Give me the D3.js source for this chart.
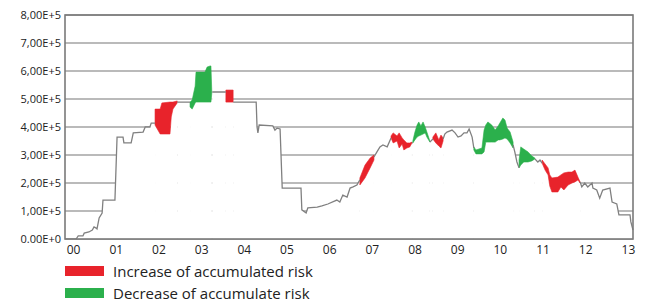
<!DOCTYPE html>
<html>
<head>
<meta charset="utf-8">
<script src="https://cdn.jsdelivr.net/npm/d3@7"></script>
<style>
  body { margin: 0; background: #fff; }
  svg { display: block; font-family: "Open Sans", sans-serif; }
</style>
</head>
<body>
<svg id="chart" width="646" height="305"></svg>
<script>
// years since 2000
var xTickValues = d3.range(0, 14);
var xTickLabels = ["00","01","02","03","04","05","06","07","08","09","10","11","12","13"];
var yTickValues = [0, 100000, 200000, 300000, 400000, 500000, 600000, 700000, 800000];
var yTickLabels = ["0.00E+0","1,00E+5","2,00E+5","3,00E+5","4,00E+5","5,00E+5","6,00E+5","7,00E+5","8,00E+5"];

var legendLabels = ["Increase of accumulated risk", "Decrease of accumulate risk"];

// accumulated risk, [year, value]; null = part covered by a coloured band
var riskLine = [
  [0.07,0],[0.12,11000],[0.23,11000],[0.26,21000],[0.37,25000],[0.45,32000],[0.49,43000],[0.54,39000],
  [0.56,36000],[0.61,75000],[0.68,93000],[0.70,139000],[0.98,139000],[1.03,364000],[1.17,364000],
  [1.19,343000],[1.36,343000],[1.41,379000],[1.64,382000],[1.69,400000],[1.80,400000],[1.83,414000],[1.92,414000],
  null,
  [2.44,489000],[2.74,489000],
  null,
  [3.26,525000],[3.58,525000],
  null,
  [3.75,489000],[4.29,489000],[4.31,400000],[4.33,379000],[4.36,407000],[4.68,404000],[4.73,389000],
  [4.78,396000],[4.85,393000],[4.90,182000],[5.34,182000],[5.36,104000],[5.46,93000],[5.50,111000],
  [5.72,114000],[5.83,118000],[5.97,125000],[6.18,139000],[6.25,132000],[6.32,157000],[6.42,150000],
  [6.49,182000],[6.56,186000],[6.65,193000],[6.72,211000],
  null,
  [7.05,293000],[7.12,311000],[7.19,329000],[7.26,336000],[7.36,329000],[7.45,361000],
  null,
  [7.94,343000],[7.96,343000],
  null,
  [8.36,346000],[8.43,357000],
  null,
  [8.67,357000],[8.71,375000],[8.76,382000],[8.88,389000],[8.95,379000],[9.02,364000],[9.09,368000],
  [9.16,379000],[9.23,379000],[9.28,393000],[9.35,364000],[9.39,325000],
  null,
  [10.31,336000],[10.35,311000],[10.40,275000],[10.45,254000],
  null,
  [10.82,286000],[10.89,275000],[10.94,282000],[10.99,271000],
  null,
  [11.88,204000],[11.92,186000],[11.99,200000],[12.06,186000],[12.16,200000],[12.18,182000],[12.27,175000],
  [12.34,146000],[12.41,175000],[12.58,182000],[12.63,132000],[12.74,125000],[12.79,86000],[13.05,86000],
  [13.07,61000],[13.12,32000]
];

// bands, [year, low, high]
var increaseBands = [
  [[1.92,407000,464000],[2.04,375000,464000],[2.08,375000,486000],[2.27,375000,489000],[2.30,436000,489000],[2.34,464000,489000],[2.44,486000,493000]],
  [[3.58,489000,532000],[3.75,489000,532000]],
  [[6.72,193000,218000],[6.84,218000,264000],[6.96,254000,289000],[7.05,282000,300000]],
  [[7.45,361000,368000],[7.50,343000,379000],[7.59,350000,368000],[7.64,325000,379000],[7.71,339000,361000],[7.75,318000,354000],[7.82,325000,343000],[7.89,329000,343000],[7.94,343000,346000]],
  [[8.43,357000,364000],[8.50,343000,379000],[8.57,332000,354000],[8.62,325000,371000],[8.67,350000,361000]],
  [[10.99,271000,282000],[11.06,246000,268000],[11.13,229000,254000],[11.17,189000,229000],[11.22,168000,218000],[11.36,168000,221000],[11.43,186000,229000],[11.50,175000,236000],[11.60,193000,239000],[11.69,200000,239000],[11.76,204000,246000],[11.83,211000,221000],[11.88,200000,204000]]
];
var decreaseBands = [
  [[2.74,471000,489000],[2.79,464000,496000],[2.86,486000,546000],[2.88,489000,596000],[3.09,489000,596000],[3.14,489000,614000],[3.21,489000,618000],[3.23,489000,618000],[3.25,521000,525000]],
  [[7.96,343000,350000],[8.01,354000,382000],[8.06,364000,407000],[8.10,368000,418000],[8.15,371000,404000],[8.20,375000,418000],[8.25,379000,400000],[8.29,364000,382000],[8.36,346000,350000]],
  [[9.39,318000,329000],[9.44,304000,318000],[9.58,304000,325000],[9.63,311000,389000],[9.67,346000,407000],[9.72,346000,418000],[9.81,346000,407000],[9.89,346000,389000],[9.96,354000,404000],[10.00,354000,414000],[10.07,357000,432000],[10.12,361000,425000],[10.17,357000,396000],[10.24,343000,382000],[10.31,325000,346000]],
  [[10.45,254000,282000],[10.49,264000,329000],[10.56,275000,321000],[10.66,275000,311000],[10.75,279000,296000],[10.82,286000,289000]]
];

var red = "#e8232b", green = "#2bb04c";

var plot = {left: 65, right: 633, top: 15, bottom: 239};

var x = d3.scaleLinear().domain([-0.19, 13.12]).range([plot.left, plot.right]);
var y = d3.scaleLinear().domain([0, 800000]).range([plot.bottom, plot.top]);

var svg = d3.select("#chart");

// grid
svg.append("g").selectAll("line")
  .data(yTickValues)
  .join("line")
  .attr("x1", plot.left).attr("x2", plot.right)
  .attr("y1", function(d) { return y(d); }).attr("y2", function(d) { return y(d); })
  .attr("stroke", "#a3a3a3").attr("stroke-width", 1.3);

// white under the curve hides the grid
var underLine = d3.area()
  .defined(function(d) { return d !== null; })
  .x(function(d) { return x(d[0]); })
  .y0(y(0))
  .y1(function(d) { return y(d[1]); });
svg.append("path").datum(riskLine).attr("d", underLine).attr("fill", "#fff");

var underBand = d3.area()
  .x(function(d) { return x(d[0]); })
  .y0(y(0))
  .y1(function(d) { return y(d[1]); });
svg.append("g").selectAll("path")
  .data(increaseBands.concat(decreaseBands))
  .join("path")
  .attr("d", underBand).attr("fill", "#fff");

var band = d3.area()
  .x(function(d) { return x(d[0]); })
  .y0(function(d) { return y(d[1]); })
  .y1(function(d) { return y(d[2]); });
svg.append("g").selectAll("path")
  .data(increaseBands)
  .join("path")
  .attr("d", band).attr("fill", red).attr("stroke", red).attr("stroke-width", 0.6);
svg.append("g").selectAll("path")
  .data(decreaseBands)
  .join("path")
  .attr("d", band).attr("fill", green).attr("stroke", green).attr("stroke-width", 0.6);

var line = d3.line()
  .defined(function(d) { return d !== null; })
  .x(function(d) { return x(d[0]); })
  .y(function(d) { return y(d[1]); });
svg.append("path").datum(riskLine).attr("d", line)
  .attr("fill", "none").attr("stroke", "#808080").attr("stroke-width", 1.3);

// frame
svg.append("rect")
  .attr("x", plot.left).attr("y", plot.top)
  .attr("width", plot.right - plot.left).attr("height", plot.bottom - plot.top)
  .attr("fill", "none").attr("stroke", "#7a7a7a").attr("stroke-width", 1.6);

// axes
var yAxis = svg.append("g")
  .attr("transform", "translate(" + plot.left + ",0)")
  .call(d3.axisLeft(y).tickValues(yTickValues).tickSize(0).tickPadding(4)
    .tickFormat(function(d, i) { return yTickLabels[i]; }));
yAxis.select(".domain").remove();
yAxis.selectAll("text").attr("font-size", 11).attr("fill", "#222").attr("font-family", "Open Sans, sans-serif");

var xAxis = svg.append("g")
  .attr("transform", "translate(0," + plot.bottom + ")")
  .call(d3.axisBottom(x).tickValues(xTickValues).tickSize(0).tickPadding(6)
    .tickFormat(function(d, i) { return xTickLabels[i]; }));
xAxis.select(".domain").remove();
xAxis.selectAll("text").attr("font-size", 12).attr("fill", "#222").attr("font-family", "Open Sans, sans-serif");

// legend
var legend = svg.append("g").attr("transform", "translate(65,266)");
var item = legend.selectAll("g")
  .data(legendLabels)
  .join("g")
  .attr("transform", function(d, i) { return "translate(0," + (i * 22) + ")"; });
item.append("rect")
  .attr("width", 39).attr("height", 10)
  .attr("fill", function(d, i) { return i === 0 ? red : green; });
item.append("text")
  .attr("x", 48).attr("y", 11)
  .attr("font-size", 15).attr("fill", "#222")
  .text(function(d) { return d; });
</script>
</body>
</html>
